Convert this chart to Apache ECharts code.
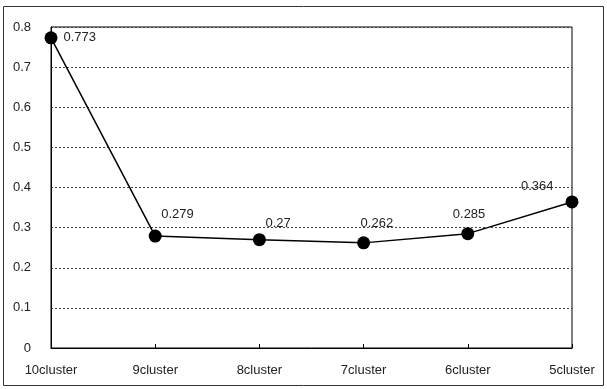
<!DOCTYPE html>
<html>
<head>
<meta charset="utf-8">
<script src="https://cdn.jsdelivr.net/npm/echarts@6/dist/echarts.min.js"></script>
<style>
  html, body { margin: 0; padding: 0; background: #fff; }
  #chart { width: 607px; height: 389px; }
</style>
</head>
<body>
<div id="chart"></div>
<script>
var categories = ['10cluster', '9cluster', '8cluster', '7cluster', '6cluster', '5cluster'];
var values = [0.773, 0.279, 0.27, 0.262, 0.285, 0.364];
var yTicks = [0, 0.1, 0.2, 0.3, 0.4, 0.5, 0.6, 0.7, 0.8];

// 라벨 위치 (점마다 조금씩 다름)
var labelPos = [
	{ position: 'right', offset: [0, 0] },
	{ position: 'top', align: 'left', offset: [6, -3] },
	{ position: 'top', align: 'left', offset: [6, 3] },
	{ position: 'top', align: 'left', offset: [-3, 0] },
	{ position: 'top', align: 'left', offset: [-15, 0] },
	{ position: 'top', align: 'left', offset: [-51, 3] }
];

var seriesData = values.map(function (v, i) {
	return { value: v, label: labelPos[i] };
});

var myChart = echarts.init(document.getElementById('chart'));
myChart.setOption({
	animation: false,
	textStyle: { fontFamily: 'Liberation Sans, Arial, sans-serif' },
	graphic: [{
		type: 'rect',
		shape: { x: 3.5, y: 6.5, width: 600, height: 379 },
		style: { fill: 'none', stroke: '#333', lineWidth: 1 },
		silent: true
	}],
	grid: {
		left: 51, right: 35, top: 27, bottom: 41,
		show: true, borderColor: '#000', borderWidth: 1
	},
	xAxis: {
		type: 'category',
		data: categories,
		boundaryGap: false,
		axisLine: { lineStyle: { color: '#000', width: 1 } },
		axisTick: { inside: true, length: 4, lineStyle: { color: '#000' } },
		axisLabel: { color: '#222', fontSize: 13, margin: 16 }
	},
	yAxis: {
		type: 'value',
		min: 0, max: 0.8, interval: 0.1,
		axisLine: { show: true, lineStyle: { color: '#000', width: 1 } },
		axisTick: { show: false },
		axisLabel: {
			color: '#222', fontSize: 13, margin: 20,
			formatter: function (v) {
				var t = yTicks.filter(function (x) { return Math.abs(x - v) < 1e-9; })[0];
				return t === 0 ? '0' : String(Math.round(v * 10) / 10);
			}
		},
		splitLine: { lineStyle: { color: '#444', type: [2, 2], width: 1 } }
	},
	series: [{
		type: 'line',
		data: seriesData,
		symbol: 'circle',
		symbolSize: 13,
		itemStyle: { color: '#000' },
		lineStyle: { color: '#000', width: 1.5 },
		label: { show: true, color: '#222', fontSize: 13, distance: 6 }
	}]
});
</script>
</body>
</html>
